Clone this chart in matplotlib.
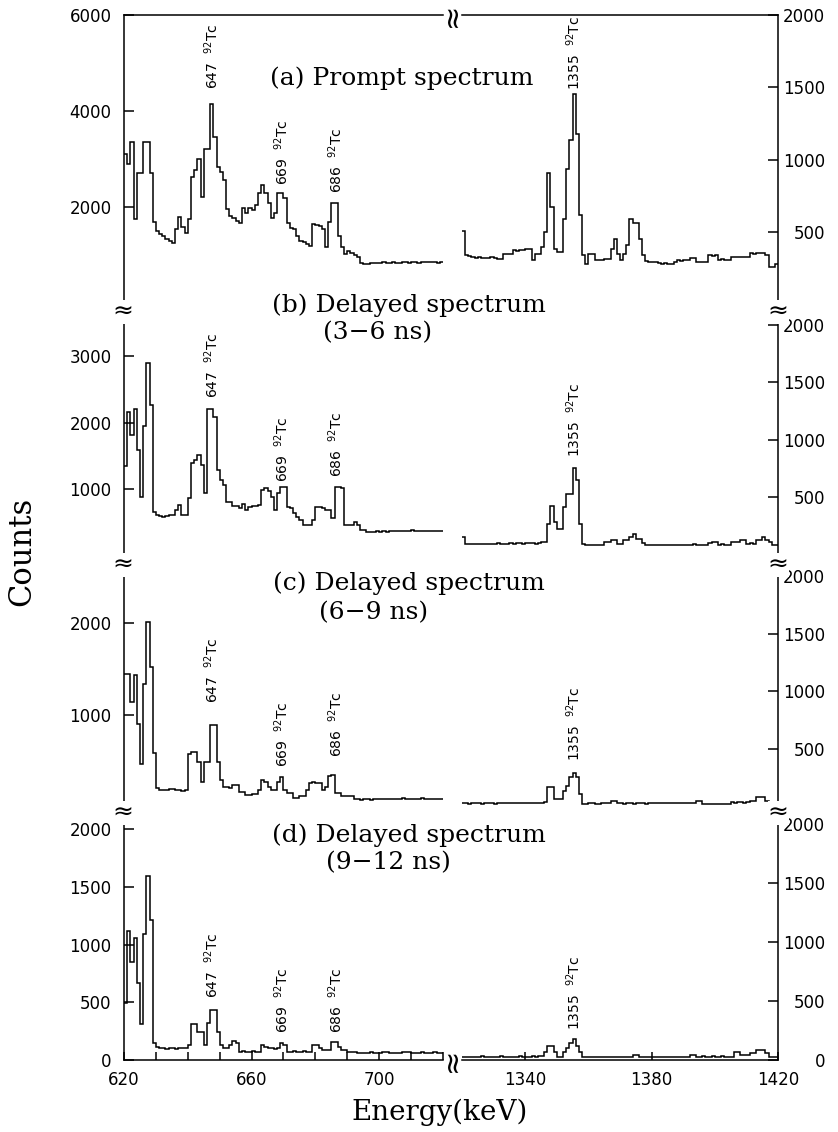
import numpy as np
import matplotlib.pyplot as plt

plt.rcParams['font.family'] = 'DejaVu Sans'
plt.rcParams['mathtext.default'] = 'regular'

# 1 keV bins
edges_low = np.arange(620, 721)
edges_high = np.arange(1320, 1421)

# (a) prompt spectrum
prompt_low = [3100, 2900, 3350, 1750, 2700, 2700, 3350, 3350, 2700, 1680,
              1500, 1430, 1400, 1340, 1300, 1240, 1530, 1790, 1580, 1465,
              1740, 2630, 2760, 3000, 2215, 3215, 3215, 4150, 3450, 2840,
              2730, 2560, 1960, 1820, 1770, 1700, 1670, 1980, 1870, 1980,
              1945, 2050, 2280, 2460, 2280, 2080, 1770, 1870, 2280, 2280,
              2180, 1670, 1570, 1530, 1400, 1290, 1260, 1220, 1190, 1640,
              1620, 1600, 1530, 1160, 1680, 2080, 2080, 1400, 1160, 1020,
              1090, 1050, 990, 950, 830, 815, 820, 835, 825, 840,
              830, 845, 835, 830, 850, 840, 835, 845, 855, 840,
              850, 845, 835, 850, 860, 845, 850, 855, 840, 850]
prompt_high = [510, 340, 335, 330, 322, 325, 318, 322, 320, 326,
               320, 313, 313, 350, 345, 350, 373, 370, 375, 373,
               385, 385, 309, 350, 350, 396, 500, 910, 673, 385,
               362, 362, 592, 938, 1139, 1452, 1176, 615, 339, 281,
               346, 346, 304, 304, 304, 316, 316, 385, 454, 350,
               304, 350, 408, 592, 565, 565, 454, 339, 300, 293,
               290, 295, 288, 281, 284, 278, 281, 290, 304, 300,
               306, 304, 322, 318, 293, 296, 290, 293, 339, 335,
               339, 309, 312, 306, 309, 327, 330, 325, 327, 330,
               327, 355, 350, 355, 358, 355, 340, 258, 258, 280]

# (b) delayed 3-6 ns
d36_low = [1350, 2160, 1810, 2210, 1590, 885, 1940, 2890, 2260, 660,
           610, 600, 575, 600, 610, 610, 684, 760, 610, 610,
           860, 1390, 1440, 1510, 1360, 935, 2210, 2210, 2090, 1290,
           1135, 1060, 810, 810, 745, 745, 709, 780, 684, 734,
           740, 740, 760, 985, 1010, 975, 885, 684, 935, 1025,
           1025, 734, 709, 634, 574, 534, 459, 459, 459, 534,
           734, 734, 709, 684, 684, 559, 1035, 1035, 1010, 459,
           459, 459, 509, 459, 383, 383, 358, 360, 355, 362,
           358, 365, 360, 370, 365, 372, 368, 375, 365, 370,
           378, 372, 368, 375, 370, 372, 368, 365, 370, 362]
d36_high = [150, 93, 90, 92, 88, 90, 93, 88, 85, 90,
            92, 95, 90, 88, 92, 95, 93, 98, 95, 93,
            95, 98, 95, 93, 100, 103, 108, 268, 419, 282,
            224, 224, 413, 529, 529, 748, 646, 268, 93, 84,
            84, 84, 84, 84, 84, 108, 108, 128, 128, 93,
            93, 122, 122, 150, 175, 137, 137, 100, 79, 79,
            80, 82, 79, 78, 80, 83, 80, 79, 81, 84,
            80, 79, 82, 85, 81, 80, 82, 84, 100, 108,
            108, 84, 86, 84, 83, 108, 106, 108, 122, 122,
            93, 95, 93, 122, 122, 151, 120, 108, 79, 79]

# (c) delayed 6-9 ns
d69_low = [1448, 1448, 1141, 1430, 906, 466, 1340, 2008, 1520, 589,
           202, 190, 185, 180, 195, 200, 190, 180, 175, 185,
           581, 600, 600, 491, 274, 491, 491, 896, 896, 491,
           292, 220, 220, 210, 238, 238, 166, 166, 130, 130,
           140, 140, 184, 292, 275, 220, 184, 184, 274, 321,
           184, 148, 148, 101, 101, 115, 120, 184, 256, 274,
           256, 256, 184, 220, 332, 347, 148, 148, 119, 119,
           125, 125, 83, 85, 80, 88, 84, 80, 86, 90,
           85, 82, 88, 92, 86, 84, 90, 95, 86, 84,
           88, 82, 90, 95, 88, 85, 90, 86, 92, 88]
d69_high = [30, 28, 26, 29, 31, 28, 27, 30, 32, 29,
            27, 30, 33, 31, 29, 28, 30, 32, 34, 31,
            29, 30, 33, 35, 32, 34, 40, 167, 167, 66,
            66, 66, 138, 181, 253, 290, 253, 109, 23, 26,
            28, 30, 27, 25, 28, 31, 29, 46, 46, 32,
            29, 27, 30, 28, 26, 29, 31, 28, 27, 30,
            29, 32, 30, 28, 29, 31, 33, 30, 28, 29,
            31, 30, 28, 32, 46, 46, 25, 23, 25, 22,
            24, 23, 26, 24, 23, 37, 36, 38, 37, 36,
            40, 52, 52, 80, 80, 80, 52, 9, 10, 9]

# (d) delayed 9-12 ns
d912_low = [490, 1120, 851, 1062, 664, 312, 1097, 1593, 1212, 144,
            110, 105, 101, 98, 104, 101, 99, 103, 107, 101,
            130, 309, 309, 245, 245, 130, 318, 433, 433, 245,
            130, 101, 101, 130, 167, 144, 72, 75, 70, 72,
            74, 70, 72, 130, 110, 100, 101, 98, 104, 144,
            130, 72, 70, 74, 72, 70, 75, 72, 72, 130,
            130, 101, 87, 87, 87, 153, 153, 115, 87, 87,
            72, 70, 66, 63, 65, 62, 64, 66, 63, 65,
            62, 66, 68, 64, 62, 65, 63, 66, 70, 66,
            64, 62, 65, 67, 63, 61, 64, 66, 63, 62]
d912_high = [28, 27, 29, 28, 26, 28, 30, 27, 28, 29,
             27, 28, 30, 29, 27, 28, 26, 29, 30, 28,
             27, 29, 31, 28, 30, 32, 71, 120, 120, 71,
             29, 29, 71, 100, 143, 177, 120, 71, 23, 24,
             22, 23, 25, 23, 22, 24, 23, 25, 24, 22,
             23, 24, 23, 25, 43, 43, 26, 25, 24, 26,
             25, 24, 26, 25, 27, 25, 24, 26, 25, 24,
             26, 25, 40, 40, 29, 28, 30, 29, 28, 30,
             29, 28, 30, 29, 28, 29, 71, 71, 43, 43,
             43, 60, 60, 86, 86, 86, 57, 23, 23, 23]

titles = ["(a) Prompt spectrum", "(b) Delayed spectrum",
          "(c) Delayed spectrum", "(d) Delayed spectrum"]
windows = ["", "(3\u22126 ns)", "(6\u22129 ns)", "(9\u221212 ns)"]
peaks_low = [647, 669, 686]
peak_high = 1355
# heights (counts) where the peak labels start
label_low = [[4450, 2450, 2300], [2370, 1105, 1180], [1127, 433, 542], [537, 234, 234]]
label_high = [1480, 846, 397, 257]

lows = [prompt_low, d36_low, d69_low, d912_low]
highs = [prompt_high, d36_high, d69_high, d912_high]
ylim_low = [(-190, 6000), (-143, 3662), (-65, 2630), (0, 2142)]
ylim_high = [(-53, 2000), (-94, 2113), (-55, 2096), (0, 2093)]
yt_low = [[2000, 4000, 6000], [1000, 2000, 3000], [1000, 2000], [0, 500, 1000, 1500, 2000]]
yt_high = [[500, 1000, 1500, 2000], [500, 1000, 1500, 2000],
           [500, 1000, 1500, 2000], [0, 500, 1000, 1500, 2000]]

W, H = 838, 1132
fig = plt.figure(figsize=(W / 100, H / 100), dpi=100)
rows = [15, 312, 565, 813, 1060]
title_pos = [(402, 78), (409, 305), (409, 583), (409, 835)]
window_pos = [None, (378, 333), (374, 613), (388, 863)]

for k in range(4):
    top, bot = rows[k], rows[k + 1]
    h = (bot - top) / H
    axl = fig.add_axes([124 / W, 1 - bot / H, 319 / W, h])
    axr = fig.add_axes([462 / W, 1 - bot / H, 316 / W, h])

    axl.stairs(lows[k], edges_low, baseline=None, color='black', lw=1.1)
    axr.stairs(highs[k], edges_high, baseline=None, color='black', lw=1.1)
    axl.set_xlim(620, 720)
    axr.set_xlim(1320, 1420)
    axl.set_ylim(*ylim_low[k])
    axr.set_ylim(*ylim_high[k])

    for ax in (axl, axr):
        ax.patch.set_alpha(0)
        for s in ax.spines.values():
            s.set_linewidth(1.1)
        ax.spines['top'].set_visible(k == 0)
        ax.spines['bottom'].set_visible(k == 3)
    axl.spines['right'].set_visible(False)
    axr.spines['left'].set_visible(False)

    axl.set_yticks(yt_low[k])
    axl.tick_params(axis='y', direction='in', length=7, width=1.1, labelsize=12, pad=9)
    axr.yaxis.tick_right()
    axr.set_yticks(yt_high[k])
    axr.tick_params(axis='y', direction='in', length=7, width=1.1, labelsize=12, pad=34)
    for lbl in axr.get_yticklabels():
        lbl.set_horizontalalignment('right')

    if k == 3:
        ticks = list(range(620, 721, 10))
        axl.set_xticks(ticks)
        axl.set_xticklabels([str(t) if t in (620, 660, 700) else '' for t in ticks])
        axr.set_xticks([1340, 1380, 1420])
        for ax in (axl, axr):
            ax.tick_params(axis='x', direction='in', length=6, width=1.1, labelsize=12, pad=8)
    else:
        axl.set_xticks([])
        axr.set_xticks([])

    for e, yv in zip(peaks_low, label_low[k]):
        axl.text(e + 0.5, yv, f"{e}  $^{{92}}$Tc", rotation=90, ha='center',
                 va='bottom', fontsize=10)
    axr.text(peak_high + 0.5, label_high[k], f"{peak_high}  $^{{92}}$Tc", rotation=90,
             ha='center', va='bottom', fontsize=10)

    tx, ty = title_pos[k]
    fig.text(tx / W, 1 - ty / H, titles[k], ha='center', va='center',
             family='DejaVu Serif', fontsize=18)
    if window_pos[k]:
        wx, wy = window_pos[k]
        fig.text(wx / W, 1 - wy / H, windows[k], ha='center', va='center',
                 family='DejaVu Serif', fontsize=18)

# axis break marks
for y in rows[1:4]:
    for x in (123, 778):
        fig.text(x / W, 1 - y / H, '\u2248', ha='center', va='center', fontsize=18,
                 bbox=dict(facecolor='white', edgecolor='none', pad=0))
for y in (15, 1060):
    fig.text(452 / W, 1 - y / H, '\u2248', ha='center', va='center', fontsize=21,
             rotation=90)

fig.text(22 / W, 1 - 551 / H, 'Counts', rotation=90, ha='center', va='center',
         family='DejaVu Serif', fontsize=22)
fig.text(440 / W, 1 - 1112 / H, 'Energy(keV)', ha='center', va='center',
         family='DejaVu Serif', fontsize=20)

fig.savefig('out.png', dpi=100)
